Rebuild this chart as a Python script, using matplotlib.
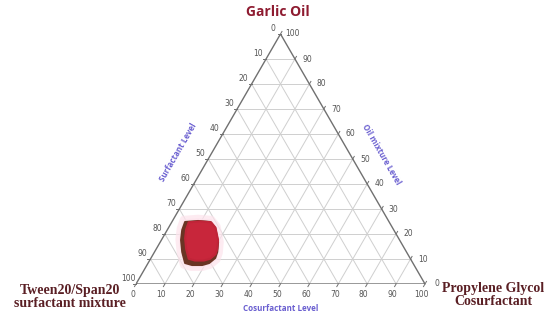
import numpy as np
import matplotlib
matplotlib.use("Agg")
import matplotlib.pyplot as plt
from matplotlib.patches import Polygon

# ---- data ----
ticks = [0, 10, 20, 30, 40, 50, 60, 70, 80, 90, 100]
grid_levels = [10, 20, 30, 40, 50, 60, 70, 80, 90]
title_top = "Garlic Oil"
corner_left = "Tween20/Span20\nsurfactant mixture"
corner_right = "Propylene Glycol\nCosurfactant"
axis_left = "Surfactant Level"
axis_right = "Oil mixture Level"
axis_bottom = "Cosurfactant Level"
# microemulsion region boundary (cosurfactant %, oil %); surfactant = 100 - both
region_cosurf = [4.6, 8.9, 13.3, 16.2, 20.0, 21.7, 22.2, 21.1, 19.1, 15.6, 12.8, 9.6, 6.8, 5.2]
region_oil = [24.8, 25.2, 24.8, 22.4, 16.8, 12.8, 10.4, 8.4, 7.6, 7.6, 8.4, 12.8, 17.6, 21.6]

W, H = 550, 321
fig = plt.figure(figsize=(W / 100, H / 100), dpi=100)
h = np.sqrt(3) / 2
px = 1 / 289.0  # one pixel in triangle units
ax = fig.add_axes([136 / W, 37 / H, 289 / W, 250 / H])
ax.set_xlim(0, 1)
ax.set_ylim(0, h)
ax.axis("off")


def tern(c, o):
    c = np.asarray(c, float) / 100
    o = np.asarray(o, float) / 100
    return c + 0.5 * o, h * o


grid_c = "#cfcfcf"
for k in grid_levels:
    x, y = tern([0, 100 - k], [k, k])
    ax.plot(x, y, color=grid_c, lw=0.7, zorder=1)
    x, y = tern([k, k], [0, 100 - k])
    ax.plot(x, y, color=grid_c, lw=0.7, zorder=1)
    x, y = tern([100 - k, 0], [0, 100 - k])
    ax.plot(x, y, color=grid_c, lw=0.7, zorder=1)

# outline
x, y = tern([0, 100, 0, 0], [0, 0, 100, 0])
ax.plot(x, y, color="#707070", lw=1.0, zorder=3, solid_joinstyle="miter")

tick_kw = dict(fontsize=5.5, color="#555555", ha="center", va="center", clip_on=False)
tl = 3 * px
for k in ticks:
    x, y = tern(k, 0)
    ax.plot([x, x - 0.5 * tl], [y, y - h * tl], color="#707070", lw=0.7, clip_on=False)
    ax.text(x - 3.5 * px, y - 11 * px, str(k), **tick_kw)
    x, y = tern(0, 100 - k)
    ax.plot([x, x - tl], [y, y], color="#707070", lw=0.7, clip_on=False)
    ax.text(x - 8 * px, y + 6 * px, str(k), **tick_kw)
    x, y = tern(100 - k, k)
    ax.plot([x, x + 0.5 * tl], [y, y + h * tl], color="#707070", lw=0.7, clip_on=False)
    ax.text(x + 12 * px, y, str(k), **tick_kw)

# region
rx, ry = tern(region_cosurf, region_oil)
pts = np.column_stack([rx, ry])
cen = pts.mean(axis=0)
halo_pts = cen + (pts - cen) * 1.12
halo = Polygon(halo_pts, closed=True, facecolor="#fde3ec", edgecolor="#fde3ec", lw=5,
               joinstyle="round", alpha=0.7, zorder=4)
ax.add_patch(halo)
outer = Polygon(pts, closed=True, facecolor="#6a3424", edgecolor="#6a3424", lw=1.5,
                joinstyle="round", zorder=5)
ax.add_patch(outer)
inner_pts = cen + (pts - cen) * 0.89 + np.array([2.0 * px, 2.2 * px])
inner = Polygon(inner_pts, closed=True, facecolor="#c8263b", edgecolor="#c02438", lw=1.5,
                joinstyle="round", zorder=6)
ax.add_patch(inner)

# axis titles
title_c = "#6a5fd0"
fx = lambda X: (X - 136) * px
fy = lambda Y: (284 - Y) * px
ax.text(fx(178), fy(152), axis_left, rotation=60, fontsize=5.8, fontweight="bold",
        color=title_c, ha="center", va="center", family="Open Sans", clip_on=False)
ax.text(fx(381), fy(154), axis_right, rotation=-60, fontsize=5.8, fontweight="bold",
        color=title_c, ha="center", va="center", family="Open Sans", clip_on=False)
ax.text(fx(281), fy(309), axis_bottom, fontsize=5.8, fontweight="bold",
        color=title_c, ha="center", va="center", family="Open Sans", clip_on=False)

# vertex labels
fig.text(278 / W, 1 - 12 / H, title_top, fontsize=10, fontweight="bold", color="#8e1b30",
         ha="center", va="center", family="Open Sans")
fig.text(70 / W, 1 - 297 / H, corner_left, fontsize=10, fontweight="bold", color="#5a1f24",
         ha="center", va="center", family="Liberation Serif", linespacing=1.05)
fig.text(493 / W, 1 - 295 / H, corner_right, fontsize=10, fontweight="bold", color="#5a1f24",
         ha="center", va="center", family="Liberation Serif", linespacing=1.05)

fig.savefig("out.png", dpi=100)
